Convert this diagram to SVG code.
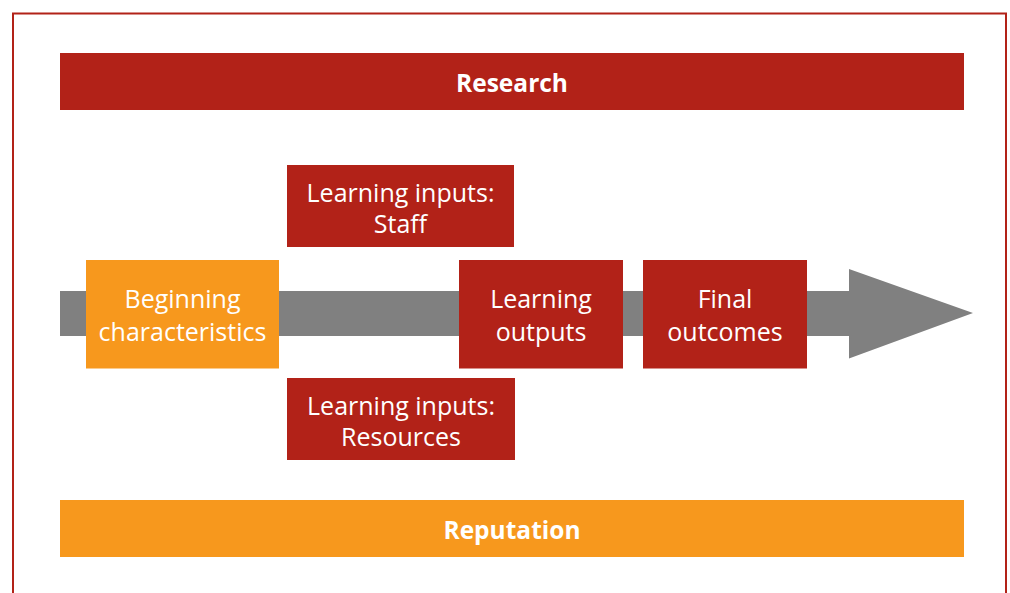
<svg xmlns="http://www.w3.org/2000/svg" width="1010" height="593" viewBox="0 0 1010 593">
<style>
  .red { fill: #B22218; }
  .orange { fill: #F7981D; }
  .t { font-family: "Open Sans", Lato, "Liberation Sans", sans-serif; font-size: 25px; fill: #ffffff; text-anchor: middle; }
  .b { font-family: "Open Sans", Lato, "Liberation Sans", sans-serif; font-size: 24.5px; font-weight: bold; fill: #ffffff; text-anchor: middle; }
</style>
<rect x="0" y="0" width="1010" height="593" fill="#ffffff"/>
<rect x="13" y="13.5" width="993" height="600" fill="none" stroke="#B22218" stroke-width="2"/>
<g id="connectors">
  <polygon points="60,291 849,291 849,269 973,313 849,358.5 849,336 60,336" fill="#808080"/>
</g>
<g id="research">
  <rect class="red" x="60" y="53" width="904" height="57"/>
  <text class="b" x="512" y="92">Research</text>
</g>
<g id="reputation">
  <rect class="orange" x="60" y="500" width="904" height="57"/>
  <text class="b" x="512" y="539">Reputation</text>
</g>
<g id="beginning">
  <rect class="orange" x="86" y="260" width="193" height="108.5"/>
  <text class="t" x="182.5" y="308">Beginning</text>
  <text class="t" x="182.5" y="340.5">characteristics</text>
</g>
<g id="staff">
  <rect class="red" x="287" y="165" width="227" height="82"/>
  <text class="t" x="400.5" y="202">Learning inputs:</text>
  <text class="t" x="400.5" y="233">Staff</text>
</g>
<g id="resources">
  <rect class="red" x="287" y="378" width="228" height="82"/>
  <text class="t" x="401" y="415">Learning inputs:</text>
  <text class="t" x="401" y="446">Resources</text>
</g>
<g id="outputs">
  <rect class="red" x="459" y="260" width="164" height="108.5"/>
  <text class="t" x="541" y="308">Learning</text>
  <text class="t" x="541" y="340.5">outputs</text>
</g>
<g id="outcomes">
  <rect class="red" x="643" y="260" width="164" height="108.5"/>
  <text class="t" x="725" y="308">Final</text>
  <text class="t" x="725" y="340.5">outcomes</text>
</g>
</svg>
